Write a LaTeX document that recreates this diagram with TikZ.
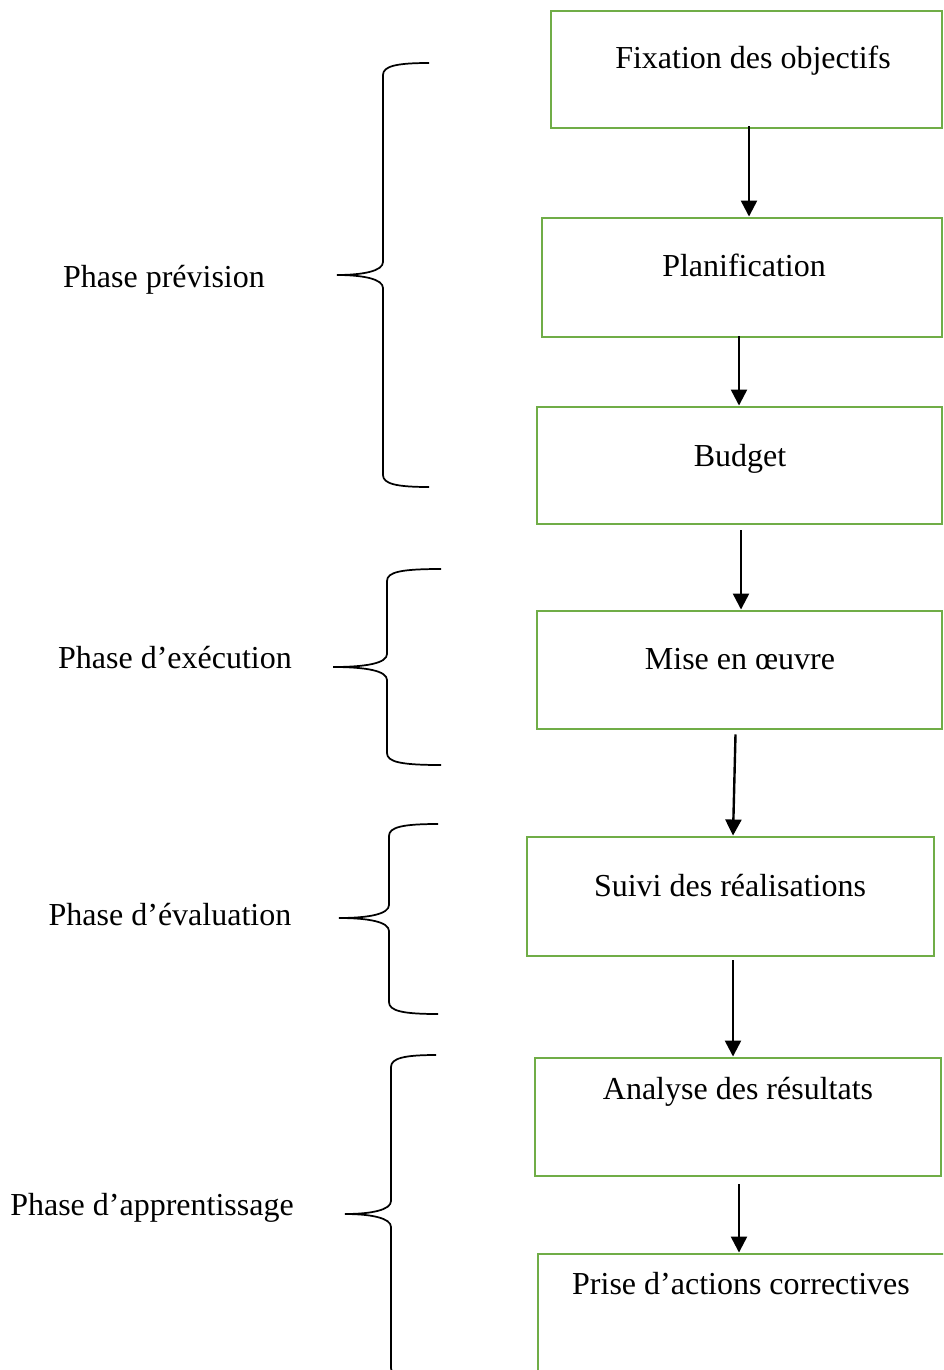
\documentclass[tikz,border=0pt]{standalone}
\usepackage{fontspec}
\setmainfont{Liberation Serif}
\usetikzlibrary{arrows.meta,fit,calc}
\definecolor{boxgreen}{HTML}{70AD47}

% curly brace opening to the right, tip pointing left
\newcommand\phasebrace[6]{% xend, xv, xtip, ytop, ytip, ybot
  \draw[bracepen] (#1,#4) .. controls (#2+14,#4) and (#2,#4+3) .. (#2,#4+12)
    -- (#2,#5-13) .. controls (#2,#5-4) and (#2-20,#5) .. (#3,#5)
    .. controls (#2-20,#5) and (#2,#5+4) .. (#2,#5+13)
    -- (#2,#6-12) .. controls (#2,#6-3) and (#2+14,#6) .. (#1,#6);}

\begin{document}
\begin{tikzpicture}[x=0.75pt,y=-0.75pt,
  stepbox/.style={draw=boxgreen,line width=2.2pt,inner sep=0pt},
  txt/.style={font=\fontsize{24}{28}\selectfont,inner sep=0pt,anchor=base},
  arr/.style={line width=1.8pt,-{Triangle[length=12pt,width=12pt]}},
  bracepen/.style={line width=1.3pt}]
\useasboundingbox (0,0) rectangle (943,1370);
\clip (0,0) rectangle (943,1370);

% process boxes
\node[stepbox,fit={(551,11) (942,128)}] (b1) {};
\node[stepbox,fit={(542,218) (942,337)}] (b2) {};
\node[stepbox,fit={(537,407) (942,524)}] (b3) {};
\node[stepbox,fit={(537,611) (942,729)}] (b4) {};
\node[stepbox,fit={(527,837) (934,956)}] (b5) {};
\node[stepbox,fit={(535,1058) (941,1176)}] (b6) {};
\node[stepbox,fit={(538,1254) (960,1400)}] (b7) {};

% box texts
\node[txt] (t1) at (753,69) {Fixation des objectifs};
\node[txt] (t2) at (744,276) {Planification};
\node[txt] (t3) at (740,466) {Budget};
\node[txt] (t4) at (740,669) {Mise en œuvre};
\node[txt] (t5) at (730,896) {Suivi des réalisations};
\node[txt] (t6) at (738,1099) {Analyse des résultats};
\node[txt] (t7) at (741,1294) {Prise d’actions correctives};

% arrows between boxes
\draw[arr] ($(b1.south)+(2.5,-3)$) -- ($(b2.north)+(7,0)$);
\draw[arr] ($(b2.south)+(-3,-2)$) -- ($(b3.north)+(-0.5,0)$);
\draw[arr] ($(b3.south)+(1.5,5)$) -- ($(b4.north)+(1.5,0)$);
\draw[arr] ($(b4.south)+(-4,4)$) -- ($(b5.north)+(2.5,0)$);
\draw[arr] ($(b5.south)+(2.5,3)$) -- ($(b6.north)+(-5,0)$);
\draw[arr] ($(b6.south)+(1,7)$) -- ($(b7.north)+(-10,0)$);

% phase braces
\phasebrace{429}{383}{337}{63}{275}{487}
\phasebrace{441}{387}{333}{569}{667}{765}
\phasebrace{438}{389}{339}{824}{918}{1014}
\phasebrace{436}{391}{345}{1055}{1214}{1380}

% phase labels
\node[txt] (l1) at (164,287) {Phase prévision};
\node[txt] (l2) at (175,668) {Phase d’exécution};
\node[txt] (l3) at (170,925) {Phase d’évaluation};
\node[txt] (l4) at (152,1215) {Phase d’apprentissage};
\end{tikzpicture}
\end{document}
